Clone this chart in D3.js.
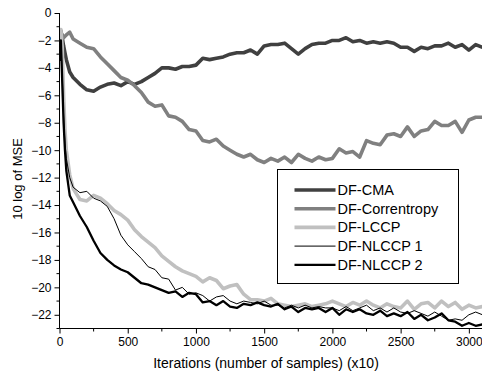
<!DOCTYPE html>
<html>
<head>
<meta charset="utf-8">
<script src="https://cdn.jsdelivr.net/npm/d3@7"></script>
<style>
    body { margin: 0; background: #fff; }
    svg { display: block; font-family: "Liberation Sans", Arial, sans-serif; }
</style>
</head>
<body>
<div id="chart"></div>
<script>
// iterations (x10), shared by every curve
const iters = [0, 10, 20, 30, 40, 50, 75, 100, 150, 200, 250, 300, 350, 400, 450, 500, 550, 600, 650, 700,
    750, 800, 850, 900, 950, 1000, 1050, 1100, 1150, 1200, 1250, 1300, 1350, 1400, 1450, 1500, 1550, 1600,
    1650, 1700, 1750, 1800, 1850, 1900, 1950, 2000, 2050, 2100, 2150, 2200, 2250, 2300, 2350, 2400, 2450,
    2500, 2550, 2600, 2650, 2700, 2750, 2800, 2850, 2900, 2950, 3000, 3050, 3100]

const dfCma = [-1.5, -1.3, -1.8, -2.4, -2.9, -3.4, -4.3, -4.7, -5.2, -5.6, -5.7, -5.4, -5.2, -5.1, -5.3, -5.0, -5.2,
    -5.0, -4.7, -4.4, -4.0, -4.0, -4.1, -3.9, -3.9, -3.8, -3.3, -3.4, -3.3, -3.2, -3.0, -2.9, -2.9, -2.7, -3.0,
    -2.4, -2.3, -2.3, -2.2, -2.6, -3.0, -2.6, -2.3, -2.2, -2.2, -2.0, -2.0, -1.8, -2.1, -2.0, -2.2, -2.1, -2.2,
    -2.1, -2.2, -2.5, -2.5, -2.8, -2.5, -2.6, -2.4, -2.4, -2.2, -2.5, -2.3, -2.7, -2.3, -2.5]

const dfCorrentropy = [-1.8, -1.4, -1.6, -1.8, -1.7, -1.6, -1.4, -1.9, -2.2, -2.5, -2.6, -3.2, -3.7, -4.2, -4.7,
    -4.9, -5.3, -5.8, -6.5, -6.8, -6.7, -7.5, -7.6, -7.9, -8.5, -8.6, -9.3, -9.4, -9.2, -9.7, -10.0, -10.3, -10.5,
    -10.3, -10.7, -10.9, -10.6, -10.8, -10.5, -10.9, -10.3, -10.6, -10.8, -10.5, -10.7, -10.6, -9.9, -10.2, -10.1,
    -10.5, -9.3, -9.5, -9.6, -8.9, -8.8, -9.0, -8.3, -9.0, -8.6, -8.5, -7.9, -8.2, -8.2, -7.9, -8.7, -7.8, -7.6, -7.6]

const dfLccp = [-1.6, -1.2, -2.5, -6.0, -8.5, -10.0, -11.8, -12.8, -13.6, -13.7, -13.3, -13.5, -13.9, -14.4, -14.7,
    -15.1, -15.8, -16.3, -16.7, -17.1, -17.7, -18.1, -18.5, -18.8, -19.0, -19.2, -19.6, -19.3, -19.5, -20.1, -19.9,
    -19.8, -20.5, -20.9, -20.9, -21.0, -20.8, -21.2, -21.3, -21.4, -21.3, -21.2, -21.4, -21.3, -21.2, -21.0, -21.2,
    -21.4, -21.1, -21.3, -21.0, -21.3, -21.5, -21.2, -21.4, -21.5, -21.0, -21.6, -21.2, -21.1, -21.5, -21.0, -21.4,
    -21.1, -21.6, -21.3, -21.5, -21.4]

const dfNlccp1 = [-3.2, -2.2, -4.5, -7.5, -9.5, -10.6, -12.0, -12.7, -13.1, -13.0, -13.5, -13.7, -14.1, -15.0, -16.2,
    -16.9, -17.4, -17.9, -18.5, -18.7, -19.3, -19.4, -20.2, -20.0, -20.5, -20.4, -20.6, -21.0, -20.7, -20.6, -21.0,
    -21.2, -21.0, -21.1, -21.2, -21.0, -21.3, -21.3, -21.5, -21.3, -21.5, -21.3, -21.5, -21.4, -21.5, -21.5, -21.7,
    -21.4, -21.7, -21.5, -21.3, -21.7, -21.5, -21.8, -21.5, -21.8, -21.9, -21.7, -21.9, -22.1, -21.8, -22.1, -22.4,
    -22.3, -22.4, -22.0, -21.8, -22.0]

const dfNlccp2 = [-3.5, -2.0, -5.0, -8.0, -10.0, -11.5, -13.3, -13.8, -14.8, -15.6, -16.6, -17.5, -18.0, -18.4, -18.7,
    -18.9, -19.3, -19.7, -19.8, -20.0, -20.2, -20.4, -20.3, -20.7, -20.4, -20.5, -21.1, -21.0, -21.3, -21.0, -21.4,
    -21.5, -21.2, -21.3, -21.1, -21.3, -21.4, -21.2, -21.6, -21.4, -21.8, -21.5, -21.6, -21.5, -21.8, -21.5, -22.0,
    -21.6, -21.8, -21.6, -21.9, -22.0, -21.7, -22.1, -21.9, -22.1, -21.8, -22.3, -22.0, -22.4, -22.2, -21.9, -22.4,
    -22.5, -22.8, -22.6, -22.8, -22.7]

const seriesNames = ['DF-CMA', 'DF-Correntropy', 'DF-LCCP', 'DF-NLCCP 1', 'DF-NLCCP 2']
const seriesValues = [dfCma, dfCorrentropy, dfLccp, dfNlccp1, dfNlccp2]

const xTicks = [0, 500, 1000, 1500, 2000, 2500, 3000]
const yTicks = [0, -2, -4, -6, -8, -10, -12, -14, -16, -18, -20, -22]

// стиль линий (цвет / толщина)
const lineStyle = [
    { color: '#404040', width: 3.6 },
    { color: '#808080', width: 3.6 },
    { color: '#c0c0c0', width: 3.6 },
    { color: '#000000', width: 1 },
    { color: '#000000', width: 2.3 }
]

const chartWidth = 482
const chartHeight = 376
const plotLeft = 59.5
const plotRight = 482.5
const plotTop = 13
const plotBottom = 328.5

const svg = d3.select('#chart').append('svg')
    .attr('width', chartWidth)
    .attr('height', chartHeight)

const x = d3.scaleLinear().domain([0, 3100]).range([plotLeft, plotRight])
const y = d3.scaleLinear().domain([-23, 0]).range([plotBottom, plotTop])

// линии
const line = d3.line()
    .x((d, i) => x(iters[i]))
    .y(d => y(d))

svg.append('defs').append('clipPath')
    .attr('id', 'clip')
    .append('rect')
    .attr('x', plotLeft)
    .attr('y', 0)
    .attr('width', plotRight - plotLeft)
    .attr('height', plotBottom)

const lines = svg.append('g').attr('clip-path', 'url(#clip)')
seriesValues.forEach((vals, i) => {
    lines.append('path')
        .datum(vals)
        .attr('fill', 'none')
        .attr('stroke', lineStyle[i].color)
        .attr('stroke-width', lineStyle[i].width)
        .attr('stroke-linejoin', 'round')
        .attr('d', line)
})

// ось x
const xAxis = svg.append('g')
    .attr('transform', `translate(0,${plotBottom})`)
    .call(d3.axisBottom(x).tickValues(xTicks).tickFormat(d3.format('d')).tickSize(5).tickPadding(4))
xAxis.select('.domain').attr('d', `M${plotLeft},0H${plotRight}`)
xAxis.selectAll('.tick text').style('font-size', '12px').attr('fill', '#000')
xAxis.append('g').selectAll('line')
    .data(xTicks.map(t => t + 250))
    .join('line')
    .attr('x1', d => x(d)).attr('x2', d => x(d))
    .attr('y1', 0).attr('y2', 3)
    .attr('stroke', '#000')

// ось y
const yAxis = svg.append('g')
    .attr('transform', `translate(${plotLeft},0)`)
    .call(d3.axisLeft(y).tickValues(yTicks).tickFormat(d3.format('d')).tickSize(5).tickPadding(3))
yAxis.select('.domain').attr('d', `M0,${y(0)}V${plotBottom}`)
yAxis.selectAll('.tick text').style('font-size', '12px').attr('fill', '#000')
yAxis.append('g').selectAll('line')
    .data(yTicks.map(t => t - 1))
    .join('line')
    .attr('x1', 0).attr('x2', -3)
    .attr('y1', d => y(d)).attr('y2', d => y(d))
    .attr('stroke', '#000')

svg.selectAll('.domain, .tick line').attr('stroke', '#000')

// подписи осей
svg.append('text')
    .attr('x', 266)
    .attr('y', 368)
    .attr('text-anchor', 'middle')
    .style('font-size', '14px')
    .text('Iterations (number of samples) (x10)')

svg.append('text')
    .attr('transform', 'translate(22,179) rotate(-90)')
    .attr('text-anchor', 'middle')
    .style('font-size', '13px')
    .text('10 log of MSE')

// легенда
const legend = svg.append('g').attr('transform', 'translate(277.5,169.5)')
legend.append('rect')
    .attr('width', 181)
    .attr('height', 114)
    .attr('fill', '#fff')
    .attr('stroke', '#000')
    .attr('stroke-width', 1)

seriesNames.forEach((name, i) => {
    const ly = 20.5 + i * 18.7
    legend.append('line')
        .attr('x1', 17).attr('x2', 58)
        .attr('y1', ly).attr('y2', ly)
        .attr('stroke', lineStyle[i].color)
        .attr('stroke-width', lineStyle[i].width)
    legend.append('text')
        .attr('x', 60)
        .attr('y', ly + 5)
        .style('font-size', '14.5px')
        .text(name)
})
</script>
</body>
</html>
